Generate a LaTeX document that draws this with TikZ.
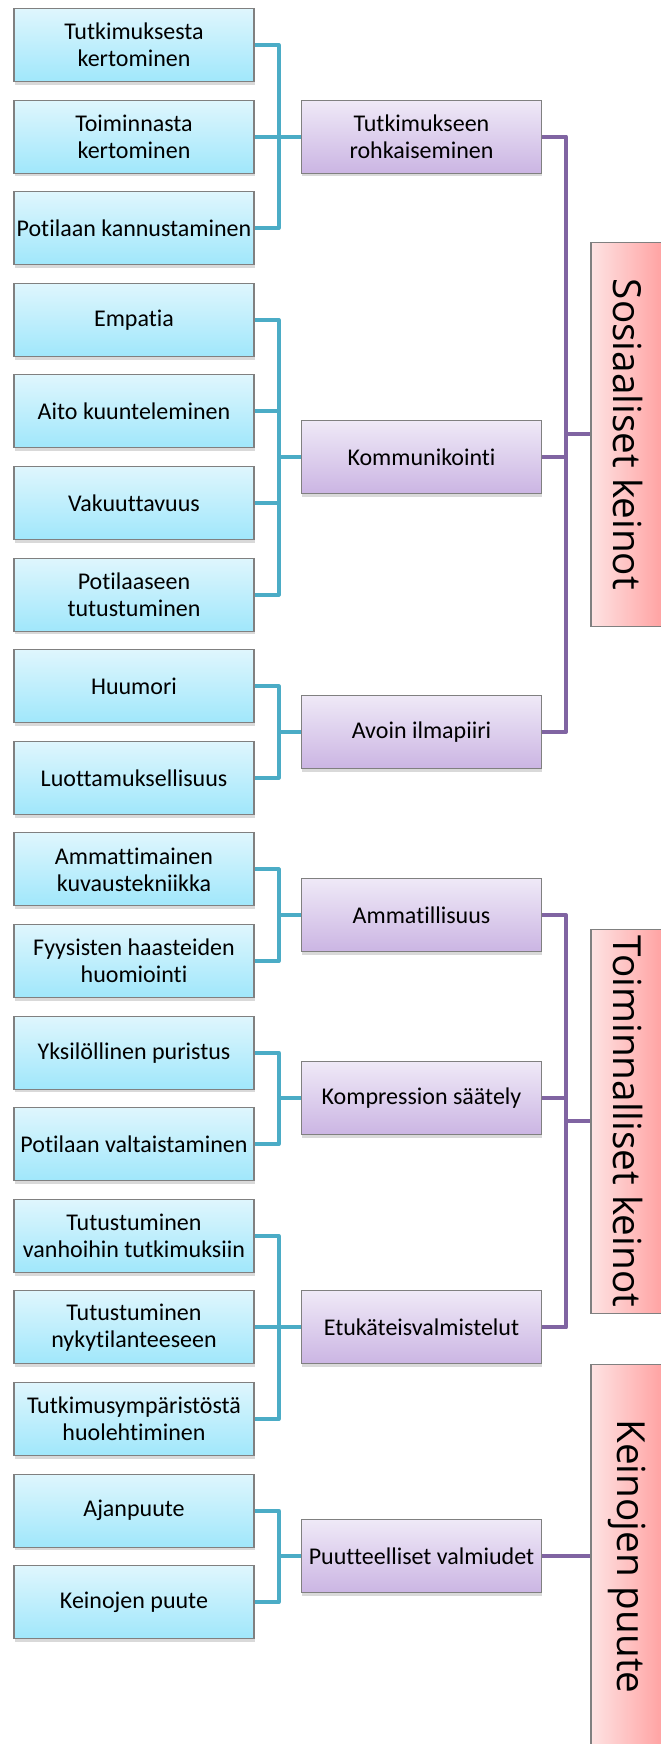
\documentclass[tikz,border=0pt]{standalone}
\usepackage{fontspec}
\setmainfont{Carlito}[Ligatures=NoCommon]
\newfontfamily\rootfont{Open Sans}[Ligatures=NoCommon]
\usetikzlibrary{shadows}

\definecolor{leafTop}{HTML}{DFF6FD}
\definecolor{leafBot}{HTML}{A0E7FB}
\definecolor{midTop}{HTML}{EFE9F7}
\definecolor{midBot}{HTML}{CBB5E3}
\definecolor{rootTop}{HTML}{FEE3E3}
\definecolor{rootBot}{HTML}{FFA1A1}
\definecolor{aqua}{HTML}{4BACC6}
\definecolor{violet}{HTML}{8064A2}

\tikzset{
  leaf/.style={draw=black!50, line width=0.8pt, top color=leafTop, bottom color=leafBot,
    minimum width=180pt, minimum height=54.75pt, inner sep=1pt, align=center,
    font=\fontsize{18}{20.2}\selectfont,
    drop shadow={shadow xshift=0.6pt, shadow yshift=-2.4pt, opacity=0.3}},
  mid/.style={leaf, top color=midTop, bottom color=midBot},
  root/.style={draw=black!50, line width=0.8pt, rotate=-90, left color=rootTop, right color=rootBot,
    minimum width=288pt, minimum height=54.75pt, inner sep=1pt,
    font=\rootfont\fontsize{29}{31}\selectfont},
  leafline/.style={aqua, line width=3pt, line join=round},
  rootline/.style={violet, line width=3pt, line join=round}
}

\begin{document}
\begin{tikzpicture}[x=0.75pt, y=-0.75pt]
\useasboundingbox (0,0) rectangle (660,1744);

\node[leaf] (l1) at (134,45) {Tutkimuksesta\\kertominen};
\node[leaf] (l2) at (134,136.6) {Toiminnasta\\kertominen};
\node[leaf] (l3) at (134,228.2) {Potilaan kannustaminen};
\node[leaf] (l4) at (134,319.8) {Empatia};
\node[leaf] (l5) at (134,411.4) {Aito kuunteleminen};
\node[leaf] (l6) at (134,503) {Vakuuttavuus};
\node[leaf] (l7) at (134,594.6) {Potilaaseen\\tutustuminen};
\node[leaf] (l8) at (134,686.2) {Huumori};
\node[leaf] (l9) at (134,777.8) {Luottamuksellisuus};
\node[leaf] (l10) at (134,869.4) {Ammattimainen\\kuvaustekniikka};
\node[leaf] (l11) at (134,961) {Fyysisten haasteiden\\huomiointi};
\node[leaf] (l12) at (134,1052.6) {Yksilöllinen puristus};
\node[leaf] (l13) at (134,1144.2) {Potilaan valtaistaminen};
\node[leaf] (l14) at (134,1235.8) {Tutustuminen\\vanhoihin tutkimuksiin};
\node[leaf] (l15) at (134,1327.4) {Tutustuminen\\nykytilanteeseen};
\node[leaf] (l16) at (134,1419) {Tutkimusympäristöstä\\huolehtiminen};
\node[leaf] (l17) at (134,1510.6) {Ajanpuute};
\node[leaf] (l18) at (134,1602.2) {Keinojen puute};

\node[mid] (m1) at (421.5,136.6) {Tutkimukseen\\rohkaiseminen};
\node[mid] (m2) at (421.5,457) {Kommunikointi};
\node[mid] (m3) at (421.5,732) {Avoin ilmapiiri};
\node[mid] (m4) at (421.5,915.2) {Ammatillisuus};
\node[mid] (m5) at (421.5,1098.4) {Kompression säätely};
\node[mid] (m6) at (421.5,1327.4) {Etukäteisvalmistelut};
\node[mid] (m7) at (421.5,1556.4) {Puutteelliset valmiudet};

\node[root] (r1) at (627.5,434.3) {Sosiaaliset keinot};
\node[root] (r2) at (627.5,1121.3) {Toiminnalliset keinot};
\node[root] (r3) at (627.5,1556.4) {Keinojen puute};

\foreach \c/\p in {l1/m1,l2/m1,l3/m1,l4/m2,l5/m2,l6/m2,l7/m2,l8/m3,l9/m3,
  l10/m4,l11/m4,l12/m5,l13/m5,l14/m6,l15/m6,l16/m6,l17/m7,l18/m7}
  \draw[leafline] (\c.east) -- ++(24,0) |- (\p.west);

\foreach \m/\r in {m1/r1,m2/r1,m3/r1,m4/r2,m5/r2,m6/r2,m7/r3}
  \draw[rootline] (\m.east) -- ++(24,0) |- (\r.south);
\end{tikzpicture}
\end{document}
